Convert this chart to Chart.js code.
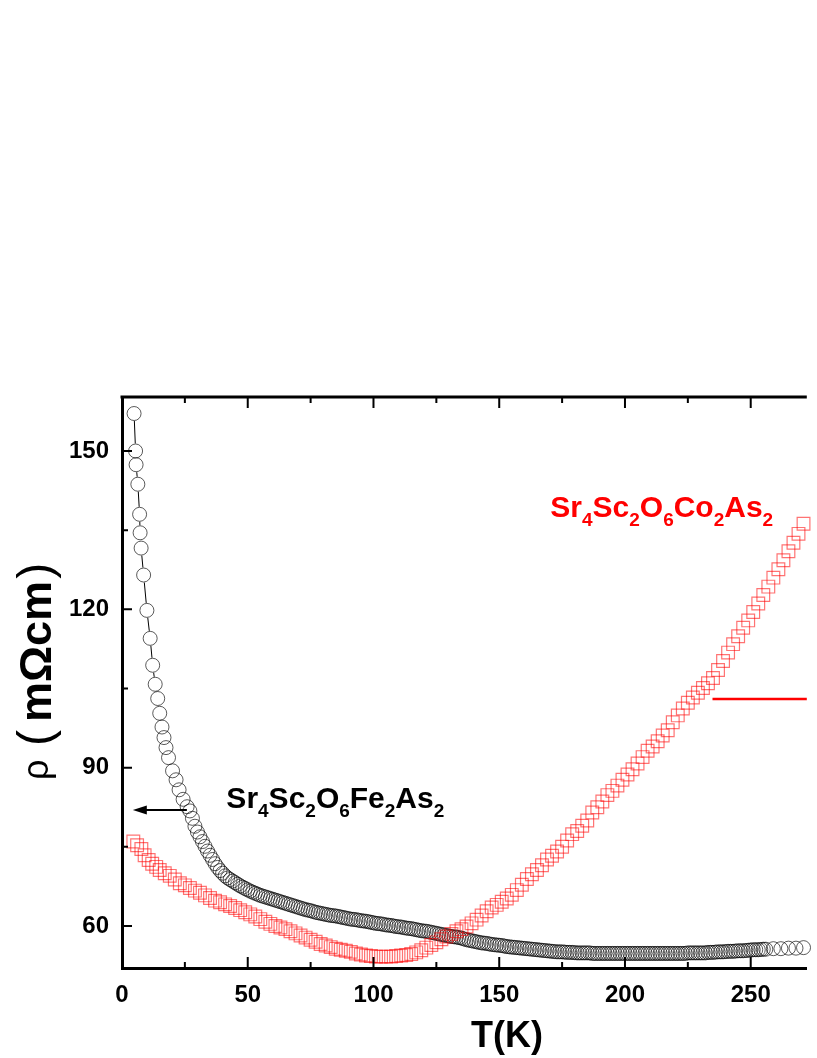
<!DOCTYPE html>
<html>
<head>
<meta charset="utf-8">
<script src="https://cdn.jsdelivr.net/npm/chart.js@4.4.1/dist/chart.umd.min.js"></script>
<style>
  html, body { margin: 0; padding: 0; background: #fff; }
</style>
</head>
<body>
<canvas id="chart-rho" width="817" height="1058"></canvas>
<script>
// Sr4Sc2O6Fe2As2 (black circles)
const FE_T = [
  4.8, 5.4, 5.6, 6.3, 7.0, 7.2, 7.6, 8.6, 9.9, 11.2, 12.2, 13.2, 14.2, 15.0, 15.9,
  16.7, 17.5, 18.5, 20.1, 21.5, 22.7, 24.3, 25.9,
  27, 28, 29, 30, 31, 32, 33, 34, 35, 36, 37, 38, 39, 40, 41, 42, 43, 44, 45, 46,
  47, 48, 49, 50, 51, 52, 53, 54, 55, 56, 57, 58, 59, 60, 61, 62, 63, 64, 65, 66,
  67, 68, 69, 70, 71, 72, 73, 74, 75, 76, 77, 78, 79, 80, 81, 82, 83, 84, 85, 86,
  87, 88, 89, 90, 91, 92, 93, 94, 95, 96, 97, 98, 99, 100, 101, 102, 103, 104, 105, 106,
  107, 108, 109, 110, 111, 112, 113, 114, 115, 116, 117, 118, 119, 120, 121, 122, 123, 124, 125, 126,
  127, 128, 129, 130, 131, 132, 133, 134, 135, 136, 137, 138, 139, 140, 141, 142, 143, 144, 145, 146,
  147, 148, 149, 150, 151, 152, 153, 154, 155, 156, 157, 158, 159, 160, 161, 162, 163, 164, 165, 166,
  167, 168, 169, 170, 171, 172, 173, 174, 175, 176, 177, 178, 179, 180, 181, 182, 183, 184, 185, 186,
  187, 188, 189, 190, 191, 192, 193, 194, 195, 196, 197, 198, 199, 200, 201, 202, 203, 204, 205, 206,
  207, 208, 209, 210, 211, 212, 213, 214, 215, 216, 217, 218, 219, 220, 221, 222, 223, 224, 225, 226,
  227, 228, 229, 230, 231, 232, 233, 234, 235, 236, 237, 238, 239, 240, 241, 242, 243, 244, 245, 246,
  247, 248, 249, 250, 251, 252, 253, 254, 255, 256, 259, 262, 265, 268, 271,
];
const FE_RHO = [
  157.1, 150.0, 147.4, 143.7, 138.0, 134.5, 131.6, 126.5, 119.8, 114.5, 109.4, 105.8, 103.1, 100.3, 97.7,
  95.7, 93.8, 91.9, 89.4, 87.7, 85.8, 84.0, 82.6,
  81.8, 80.4, 78.9, 77.8, 76.9, 76.0, 75.1, 74.2, 73.4, 72.6, 71.8, 71.1, 70.5, 70.0, 69.5, 69.1, 68.8, 68.5, 68.2, 67.9,
  67.6, 67.35, 67.1, 66.85, 66.6, 66.4, 66.2, 66.0, 65.8, 65.65, 65.5, 65.35, 65.2, 65.05, 64.9, 64.75, 64.6, 64.45, 64.3, 64.15,
  64.0, 63.85, 63.7, 63.55, 63.4, 63.25, 63.1, 63.0, 62.9, 62.75, 62.6, 62.5, 62.4, 62.3, 62.2, 62.1, 62.0, 61.95, 61.9, 61.8,
  61.7, 61.6, 61.5, 61.4, 61.3, 61.25, 61.2, 61.1, 61.0, 60.95, 60.9, 60.8, 60.7, 60.6, 60.5, 60.45, 60.4, 60.3, 60.2, 60.15,
  60.1, 60.0, 59.9, 59.85, 59.8, 59.7, 59.6, 59.55, 59.5, 59.4, 59.3, 59.2, 59.1, 59.05, 59.0, 58.9, 58.8, 58.7, 58.6, 58.5,
  58.4, 58.3, 58.2, 58.1, 58.0, 57.95, 57.9, 57.8, 57.7, 57.55, 57.4, 57.3, 57.2, 57.1, 57.0, 56.9, 56.8, 56.75, 56.7, 56.6,
  56.5, 56.45, 56.4, 56.35, 56.3, 56.2, 56.1, 56.05, 56.0, 55.95, 55.9, 55.85, 55.8, 55.75, 55.7, 55.65, 55.6, 55.55, 55.5, 55.45,
  55.4, 55.35, 55.3, 55.25, 55.2, 55.15, 55.1, 55.1, 55.1, 55.05, 55.0, 55.0, 55.0, 54.95, 54.9, 54.9, 54.9, 54.9, 54.9, 54.9,
  54.8, 54.8, 54.8, 54.8, 54.8, 54.8, 54.8, 54.8, 54.8, 54.8, 54.8, 54.8, 54.8, 54.8, 54.8, 54.8, 54.8, 54.8, 54.8, 54.8,
  54.8, 54.8, 54.8, 54.8, 54.8, 54.8, 54.8, 54.8, 54.8, 54.8, 54.8, 54.8, 54.8, 54.8, 54.8, 54.8, 54.8, 54.8, 54.9, 54.9,
  54.9, 54.9, 54.9, 54.9, 54.9, 54.9, 55.0, 55.0, 55.0, 55.05, 55.1, 55.1, 55.1, 55.15, 55.2, 55.2, 55.2, 55.25, 55.3, 55.3,
  55.3, 55.35, 55.4, 55.45, 55.5, 55.5, 55.5, 55.55, 55.6, 55.6, 55.7, 55.7, 55.8, 55.8, 55.9,
];

// Sr4Sc2O6Co2As2 (red squares)
const CO_T = [
  4.5, 6, 7.7, 9, 10.6, 12, 13.6, 15, 17, 19, 21, 23, 25, 27, 29, 31, 33, 35, 37, 39,
  41, 43, 45, 47, 49, 51, 53, 55, 57, 59, 61, 63, 65, 67, 69, 71, 73, 75, 77, 79,
  81, 83, 85, 87, 89, 91, 93, 95, 97, 99, 101, 103, 105, 107, 109, 111, 113, 115, 117, 119,
  121, 123, 125, 127, 129, 131, 133, 135, 137, 139, 141, 143, 145, 147, 149, 151, 153, 155, 157, 159,
  161, 163, 165, 167, 169, 171, 173, 175, 177, 179, 181, 183, 185, 187, 189, 191, 193, 195, 197, 199,
  201, 203, 205, 207, 209, 211, 213, 215, 217, 219, 221, 223, 225, 227, 229, 231, 233, 235, 237, 239,
  241, 243, 245, 247, 249, 251, 253, 255, 257, 259, 261, 263, 265, 267, 269, 271,
];
const CO_RHO = [
  76.0, 75.3, 74.6, 73.4, 72.5, 71.8, 71.2, 70.6, 70.0, 69.5, 68.8, 68.1, 67.7, 67.2, 66.7, 66.3, 65.8, 65.3, 64.8, 64.5,
  64.1, 63.8, 63.4, 63.0, 62.6, 62.2, 61.8, 61.3, 60.8, 60.4, 60.0, 59.7, 59.4, 59.0, 58.6, 58.2, 57.8, 57.4, 57.0, 56.6,
  56.3, 56.0, 55.7, 55.5, 55.3, 55.1, 54.8, 54.6, 54.4, 54.3, 54.2, 54.2, 54.2, 54.2, 54.3, 54.4, 54.5, 54.7, 55.0, 55.4,
  55.9, 56.4, 56.9, 57.5, 58.0, 58.5, 59.0, 59.4, 59.9, 60.5, 61.2, 62.0, 62.8, 63.5, 64.0, 64.6, 65.2, 65.9, 66.8, 67.8,
  68.9, 69.8, 70.6, 71.5, 72.6, 73.3, 74.1, 75.0, 76.2, 77.4, 78.0, 79.0, 80.0, 81.5, 82.5, 83.6, 84.8, 85.6, 86.6, 87.7,
  88.7, 89.7, 90.8, 92.0, 93.2, 94.0, 95.0, 96.1, 97.1, 98.6, 99.9, 101.2, 102.3, 103.3, 104.2, 105.1, 106.0, 107.0, 108.5, 110.2,
  111.8, 113.4, 114.9, 116.5, 117.9, 119.5, 121.1, 122.7, 124.3, 126.0, 127.6, 129.3, 131.0, 132.6, 134.3, 136.2,
];

const X_TICKS = [0, 50, 100, 150, 200, 250];
const X_MINOR = [25, 75, 125, 175, 225];
const Y_TICKS = [60, 90, 120, 150];
const Y_MINOR = [75, 105, 135];

const FONT = "'Liberation Sans', Arial, sans-serif";

// подпись с индексами
function drawFormula(ctx, parts, x, y, color, size) {
  ctx.fillStyle = color;
  ctx.textBaseline = "alphabetic";
  ctx.textAlign = "left";
  parts.forEach(([txt, sub]) => {
    const s = sub ? Math.round(size * 0.62) : size;
    ctx.font = `bold ${s}px ${FONT}`;
    ctx.fillText(txt, x, sub ? y + size * 0.3 : y);
    x += ctx.measureText(txt).width;
  });
}

const framePlugin = {
  id: "frame",
  beforeDatasetsDraw(chart) {
    // линия между кружками с разрывами
    const pts = chart.getDatasetMeta(0).data;
    const r = 7.5;
    const ctx = chart.ctx;
    ctx.save();
    ctx.strokeStyle = "#000";
    ctx.lineWidth = 1;
    ctx.beginPath();
    for (let i = 1; i < pts.length; i++) {
      const a = pts[i - 1], b = pts[i];
      const dx = b.x - a.x, dy = b.y - a.y;
      const d = Math.hypot(dx, dy);
      if (d <= 2 * r + 1) continue;
      const ux = dx / d, uy = dy / d;
      ctx.moveTo(a.x + ux * r, a.y + uy * r);
      ctx.lineTo(b.x - ux * r, b.y - uy * r);
    }
    ctx.stroke();
    ctx.restore();
  },
  afterDraw(chart) {
    const { ctx, chartArea: area, scales } = chart;
    const xs = scales.x, ys = scales.y;
    ctx.save();
    ctx.strokeStyle = "#000";

    // верхняя рамка
    ctx.lineWidth = 3;
    ctx.beginPath();
    ctx.moveTo(area.left - 1.5, area.top);
    ctx.lineTo(area.right, area.top);
    ctx.stroke();

    // засечки внутрь
    ctx.lineWidth = 2;
    ctx.beginPath();
    const xt = (v, len) => {
      const px = xs.getPixelForValue(v);
      ctx.moveTo(px, area.bottom); ctx.lineTo(px, area.bottom - len);
      ctx.moveTo(px, area.top); ctx.lineTo(px, area.top + len);
    };
    X_TICKS.forEach((v) => xt(v, 11));
    X_MINOR.forEach((v) => xt(v, 6));
    const yt = (v, len) => {
      const py = ys.getPixelForValue(v);
      ctx.moveTo(area.left, py); ctx.lineTo(area.left + len, py);
    };
    Y_TICKS.forEach((v) => yt(v, 10));
    Y_MINOR.forEach((v) => yt(v, 6));
    ctx.stroke();

    // подпись оси X
    ctx.fillStyle = "#000";
    ctx.font = `bold 36px ${FONT}`;
    ctx.textAlign = "center";
    ctx.textBaseline = "alphabetic";
    ctx.fillText("T(K)", 507, 1047);

    // подпись оси Y
    ctx.save();
    ctx.translate(51, 782);
    ctx.rotate(-Math.PI / 2);
    ctx.textAlign = "left";
    ctx.font = `36px ${FONT}`;
    ctx.fillText("ρ", 2, -3);
    ctx.font = `48px ${FONT}`;
    ctx.fillText("(", 36, 0);
    ctx.font = `bold 45px ${FONT}`;
    ctx.fillText("mΩcm", 60, 0);
    const w = ctx.measureText("mΩcm").width;
    ctx.font = `48px ${FONT}`;
    ctx.fillText(")", 62 + w, 0);
    ctx.restore();

    // подписи образцов
    drawFormula(ctx, [["Sr", 0], ["4", 1], ["Sc", 0], ["2", 1], ["O", 0], ["6", 1], ["Fe", 0], ["2", 1], ["As", 0], ["2", 1]],
      xs.getPixelForValue(41.5), ys.getPixelForValue(82.3), "#000", 30);
    drawFormula(ctx, [["Sr", 0], ["4", 1], ["Sc", 0], ["2", 1], ["O", 0], ["6", 1], ["Co", 0], ["2", 1], ["As", 0], ["2", 1]],
      xs.getPixelForValue(170.3), ys.getPixelForValue(137.5), "#ff0000", 30);

    // стрелка к левой оси
    const ay = ys.getPixelForValue(82.0);
    const ax0 = xs.getPixelForValue(25.8), ax1 = xs.getPixelForValue(4.3);
    ctx.lineWidth = 2;
    ctx.beginPath();
    ctx.moveTo(ax0, ay); ctx.lineTo(ax1 + 10, ay);
    ctx.stroke();
    ctx.fillStyle = "#000";
    ctx.beginPath();
    ctx.moveTo(ax1, ay); ctx.lineTo(ax1 + 14, ay - 4.5); ctx.lineTo(ax1 + 14, ay + 4.5);
    ctx.closePath(); ctx.fill();

    // красная стрелка к правой оси
    const ry = ys.getPixelForValue(103.0);
    ctx.strokeStyle = "#ff0000";
    ctx.lineWidth = 2.5;
    ctx.beginPath();
    ctx.moveTo(xs.getPixelForValue(234.8), ry); ctx.lineTo(area.right, ry);
    ctx.stroke();

    ctx.restore();
  },
};

const ctx = document.getElementById("chart-rho").getContext("2d");
new Chart(ctx, {
  type: "scatter",
  data: {
    datasets: [
      {
        label: "Sr4Sc2O6Fe2As2",
        data: FE_T.map((t, i) => ({ x: t, y: FE_RHO[i] })),
        pointStyle: "circle",
        pointRadius: 7,
        pointBorderWidth: 0.9,
        pointBorderColor: "rgba(0,0,0,0.72)",
        pointBackgroundColor: "rgba(0,0,0,0)",
        showLine: false,
        clip: false,
        order: 1,
      },
      {
        label: "Sr4Sc2O6Co2As2",
        data: CO_T.map((t, i) => ({ x: t, y: CO_RHO[i] })),
        pointStyle: "rect",
        pointRadius: 9,
        pointBorderWidth: 1.2,
        pointBorderColor: "rgba(255,0,0,0.55)",
        pointBackgroundColor: "rgba(0,0,0,0)",
        showLine: false,
        clip: false,
        order: 0,
      },
    ],
  },
  plugins: [framePlugin],
  options: {
    responsive: false,
    animation: false,
    events: [],
    layout: { padding: { top: 397, left: 0, right: 0, bottom: 0 } },
    scales: {
      x: {
        type: "linear",
        position: "bottom",
        min: 0,
        max: 272.3,
        afterBuildTicks: (s) => { s.ticks = X_TICKS.map((v) => ({ value: v })); },
        afterFit: (s) => { s.height = 90; },
        grid: { display: false, drawTicks: false },
        border: { display: true, width: 3, color: "#000" },
        ticks: {
          color: "#000",
          padding: 13,
          maxRotation: 0,
          font: { family: FONT, size: 24, weight: "bold" },
        },
      },
      y: {
        type: "linear",
        position: "left",
        min: 52.04,
        max: 160.23,
        afterBuildTicks: (s) => { s.ticks = Y_TICKS.map((v) => ({ value: v })); },
        afterFit: (s) => { s.width = 122; },
        grid: { display: false, drawTicks: false },
        border: { display: true, width: 3, color: "#000" },
        ticks: {
          color: "#000",
          padding: 13,
          font: { family: FONT, size: 24, weight: "bold" },
        },
      },
    },
    plugins: {
      legend: { display: false },
      tooltip: { enabled: false },
      title: { display: false },
    },
  },
});
</script>
</body>
</html>
